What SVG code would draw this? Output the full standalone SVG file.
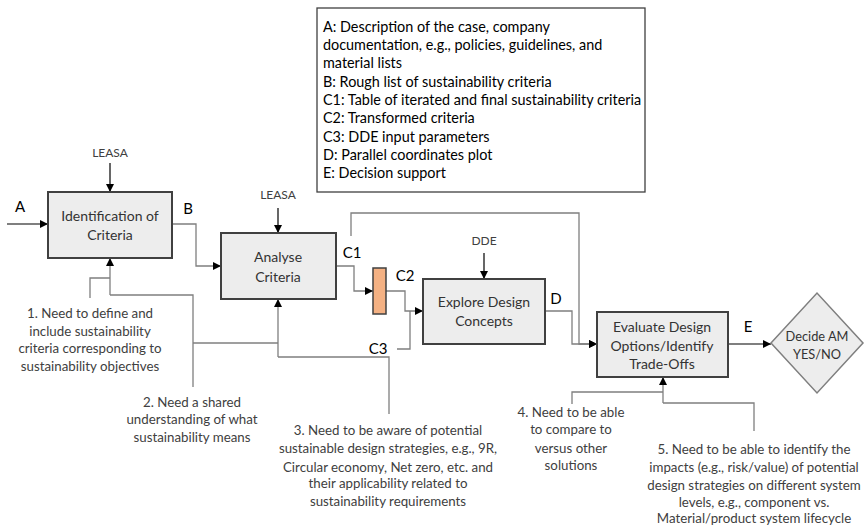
<svg xmlns="http://www.w3.org/2000/svg" width="866" height="525" viewBox="0 0 866 525">
<defs>
<marker id="ah" viewBox="0 0 10 10" refX="10" refY="5" markerWidth="8" markerHeight="8" markerUnits="userSpaceOnUse" orient="auto"><path d="M0,0 L10,5 L0,10 z" fill="#000"/></marker>
</defs>
<style>
.box{fill:#ededed;stroke:#404040;stroke-width:2}
.t{font-family:Lato,"Open Sans",sans-serif;font-size:13.3px;fill:#404040;text-anchor:middle}
.n{font-family:Lato,"Open Sans",sans-serif;font-size:14px;fill:#333;text-anchor:middle}
.lg{font-family:Lato,"Open Sans",sans-serif;font-size:14.4px;fill:#000}
.lb{font-family:Lato,"Open Sans",sans-serif;font-size:15px;fill:#000;text-anchor:middle}
.sm{font-family:Lato,"Open Sans",sans-serif;font-size:12px;fill:#404040;text-anchor:middle}
.c{fill:none;stroke:#7f7f7f;stroke-width:1.3}
.k{fill:none;stroke:#000;stroke-width:1.2}
</style>
<rect x="0" y="0" width="866" height="525" fill="#fff"/>
<g id="legend">
<rect x="317" y="8" width="328" height="184" fill="#fff" stroke="#404040" stroke-width="1.3"/>
<text class="lg" x="323" y="32">A: Description of the case, company</text>
<text class="lg" x="323" y="50">documentation, e.g., policies, guidelines, and</text>
<text class="lg" x="323" y="68">material lists</text>
<text class="lg" x="323" y="87">B: Rough list of sustainability criteria</text>
<text class="lg" x="323" y="105">C1: Table of iterated and final sustainability criteria</text>
<text class="lg" x="323" y="123">C2: Transformed criteria</text>
<text class="lg" x="323" y="142">C3: DDE input parameters</text>
<text class="lg" x="323" y="160">D: Parallel coordinates plot</text>
<text class="lg" x="323" y="178">E: Decision support</text>
</g>
<g id="connectors">
<path class="k" d="M7,224 H48" marker-end="url(#ah)"/>
<path class="k" d="M110,163 V192" marker-end="url(#ah)"/>
<path class="c" d="M172,224 H196 V266 H221" marker-end="url(#ah)"/>
<path class="k" d="M278,208 V233" marker-end="url(#ah)"/>
<path class="c" d="M336,266 H354 V291 H373" marker-end="url(#ah)"/>
<path class="c" d="M351,236 V213 H579 V344 H597" marker-end="url(#ah)"/>
<path class="c" d="M386,291 H405 V311 H423" marker-end="url(#ah)"/>
<path class="c" d="M397,349 H410 V311"/>
<path class="k" d="M484,253 V279" marker-end="url(#ah)"/>
<path class="c" d="M545,311 H572 V344 H597" marker-end="url(#ah)"/>
<path class="k" d="M728,344 H771" marker-end="url(#ah)"/>
<path class="c" d="M90,298 V278 H110"/>
<path class="c" d="M110,295 V258" marker-end="url(#ah)"/>
<path class="c" d="M110,295 H193 V387"/>
<path class="c" d="M193,343 H278"/>
<path class="c" d="M278,357 V299" marker-end="url(#ah)"/>
<path class="c" d="M278,357 H389 V414"/>
<path class="c" d="M572,404 V392 H663"/>
<path class="c" d="M663,403 V377" marker-end="url(#ah)"/>
<path class="c" d="M663,403 H754 V431"/>
</g>
<g id="labels">
<text class="lb" x="20" y="212">A</text>
<text class="lb" x="188" y="214">B</text>
<text class="lb" x="352" y="258">C1</text>
<text class="lb" x="405" y="281">C2</text>
<text class="lb" x="378" y="354">C3</text>
<text class="lb" x="556" y="304">D</text>
<text class="lb" x="748" y="332">E</text>
<text class="sm" x="110" y="157">LEASA</text>
<text class="sm" x="278" y="199">LEASA</text>
<text class="sm" x="484" y="245">DDE</text>
</g>
<g id="identification">
<rect class="box" x="48" y="192" width="124" height="66"/>
<text class="n" x="110" y="221">Identification of</text>
<text class="n" x="110" y="240">Criteria</text>
</g>
<g id="analyse">
<rect class="box" x="221" y="233" width="115" height="66"/>
<text class="n" x="278" y="262">Analyse</text>
<text class="n" x="278" y="282">Criteria</text>
</g>
<g id="transform">
<rect x="373" y="268" width="13" height="46" fill="#f4b183" stroke="#404040" stroke-width="1.5"/>
</g>
<g id="explore">
<rect class="box" x="423" y="279" width="122" height="65"/>
<text class="n" x="484" y="307">Explore Design</text>
<text class="n" x="484" y="326">Concepts</text>
</g>
<g id="evaluate">
<rect class="box" x="597" y="312" width="131" height="65"/>
<text class="n" x="662" y="332">Evaluate Design</text>
<text class="n" x="662" y="351">Options/Identify</text>
<text class="n" x="662" y="369">Trade-Offs</text>
</g>
<g id="decide">
<polygon points="771,343 817,293 863,343 817,393" fill="#ededed" stroke="#7f7f7f" stroke-width="1.5"/>
<text class="n" x="817" y="341" style="font-size:12.8px">Decide AM</text>
<text class="n" x="817" y="359" style="font-size:12.8px">YES/NO</text>
</g>
<g id="need1">
<text class="t" x="90" y="318">1. Need to define and</text>
<text class="t" x="90" y="336">include sustainability</text>
<text class="t" x="90" y="353">criteria corresponding to</text>
<text class="t" x="90" y="371">sustainability objectives</text>
</g>
<g id="need2">
<text class="t" x="192" y="407">2. Need a shared</text>
<text class="t" x="192" y="424">understanding of what</text>
<text class="t" x="192" y="442">sustainability means</text>
</g>
<g id="need3">
<text class="t" x="388" y="435">3. Need to be aware of potential</text>
<text class="t" x="388" y="453">sustainable design strategies, e.g., 9R,</text>
<text class="t" x="388" y="472">Circular economy, Net zero, etc. and</text>
<text class="t" x="388" y="488">their applicability related to</text>
<text class="t" x="388" y="506">sustainability requirements</text>
</g>
<g id="need4">
<text class="t" x="571" y="417">4. Need to be able</text>
<text class="t" x="571" y="434">to compare to</text>
<text class="t" x="571" y="453">versus other</text>
<text class="t" x="571" y="470">solutions</text>
</g>
<g id="need5">
<text class="t" x="754" y="454">5. Need to be able to identify the</text>
<text class="t" x="754" y="472">impacts (e.g., risk/value) of potential</text>
<text class="t" x="754" y="490">design strategies on different system</text>
<text class="t" x="754" y="507">levels, e.g., component vs.</text>
<text class="t" x="754" y="523">Material/product system lifecycle</text>
</g>
</svg>
